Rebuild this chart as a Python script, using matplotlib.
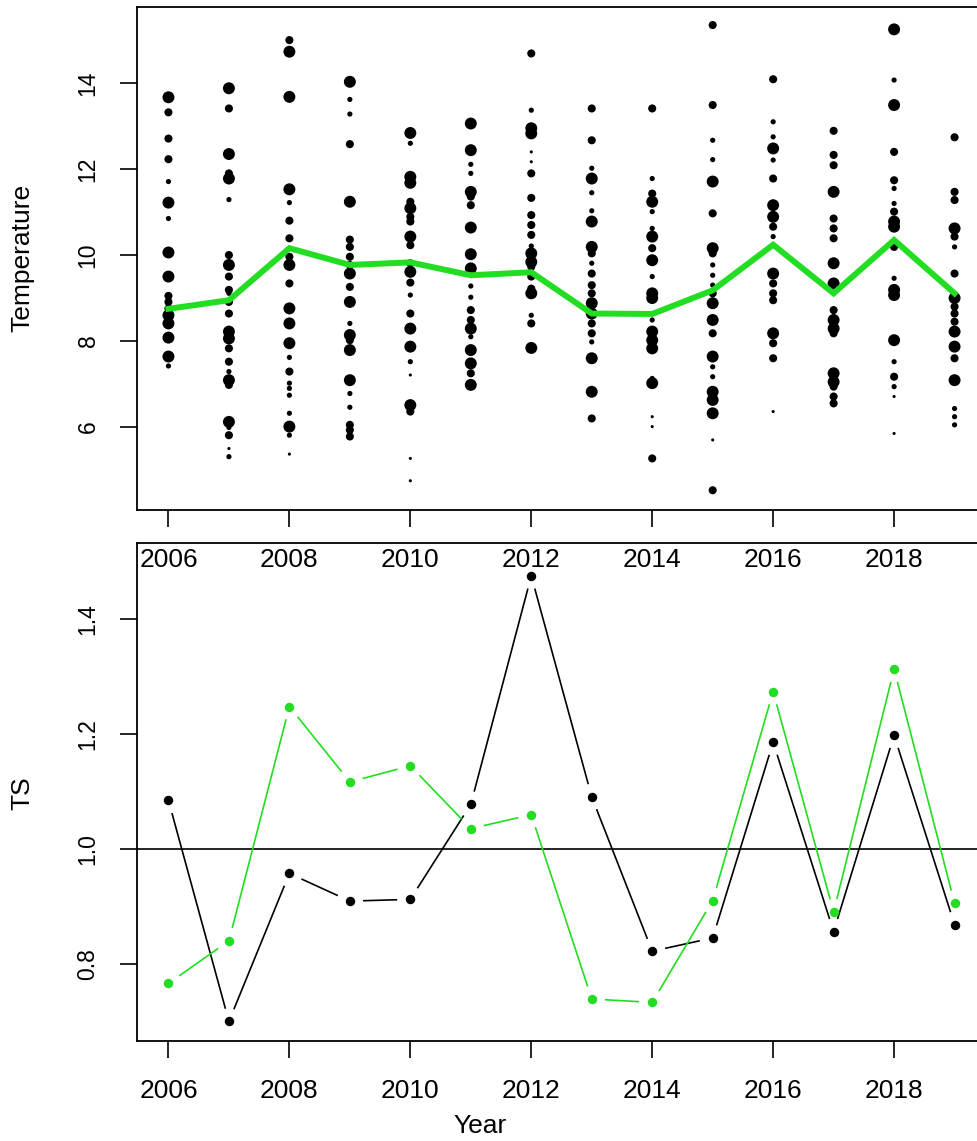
import numpy as np
import matplotlib
matplotlib.use("Agg")
import matplotlib.pyplot as plt

plt.rcParams['font.family'] = ['Liberation Sans', 'DejaVu Sans']

# yearly temperature observations and their weights (0 tiny .. 3 big)
t06 = [13.67, 13.32, 12.71, 12.23, 11.71, 11.22, 10.85, 10.06, 9.50, 9.05, 8.91, 8.76, 8.60, 8.41, 8.08, 7.64, 7.42]
w06 = [3, 2, 2, 2, 1, 3, 1, 3, 3, 2, 2, 2, 3, 3, 3, 3, 1]
t07 = [13.88, 13.41, 12.35, 11.90, 11.78, 11.29, 10.00, 9.77, 9.50, 9.19, 9.11, 8.91, 8.64, 8.22, 8.06, 7.83, 7.52,
       7.29, 7.09, 6.98, 6.12, 5.99, 5.81, 5.50, 5.31]
w07 = [3, 2, 3, 2, 3, 1, 2, 3, 2, 2, 1, 2, 2, 3, 3, 2, 2, 1, 3, 2, 3, 1, 2, 0, 1]
t08 = [15.00, 14.73, 13.68, 11.53, 11.22, 10.80, 10.39, 9.96, 9.77, 9.34, 8.76, 8.41, 7.95, 7.62, 7.29, 7.02, 6.90,
       6.74, 6.32, 6.01, 5.81, 5.37]
w08 = [2, 3, 3, 3, 1, 2, 2, 2, 3, 2, 3, 3, 3, 1, 2, 1, 1, 1, 1, 3, 1, 0]
t09 = [14.03, 13.62, 13.28, 12.58, 11.24, 10.36, 10.19, 9.96, 9.77, 9.57, 9.26, 8.91, 8.41, 8.14, 8.02, 7.79, 7.09,
       6.78, 6.46, 6.05, 5.93, 5.78]
w09 = [3, 1, 1, 2, 3, 2, 2, 2, 2, 3, 2, 3, 1, 3, 2, 3, 3, 1, 1, 2, 2, 2]
t10 = [12.84, 12.60, 11.82, 11.68, 11.24, 11.09, 10.89, 10.78, 10.43, 10.23, 9.81, 9.61, 9.36, 9.07, 8.64, 8.29, 7.87,
       7.52, 7.21, 6.51, 6.36, 5.27, 4.75]
w10 = [3, 1, 3, 3, 2, 3, 2, 2, 3, 2, 2, 3, 2, 1, 2, 3, 3, 1, 0, 3, 2, 0, 0]
t11 = [13.06, 12.44, 12.11, 11.90, 11.47, 11.36, 11.16, 10.64, 10.02, 9.69, 9.28, 9.02, 8.72, 8.49, 8.29, 8.10, 7.79,
       7.48, 7.25, 6.98]
w11 = [3, 3, 1, 1, 3, 2, 2, 3, 3, 3, 1, 1, 2, 2, 3, 1, 3, 3, 2, 3]
t12 = [14.69, 13.37, 12.95, 12.83, 12.40, 12.17, 11.90, 11.33, 10.93, 10.70, 10.47, 10.21, 10.04, 9.84, 9.73, 9.50,
       9.22, 9.11, 8.60, 8.41, 7.84]
w12 = [2, 1, 3, 3, 0, 0, 2, 2, 2, 2, 2, 1, 3, 3, 2, 2, 2, 3, 1, 2, 3]
t13 = [13.41, 12.67, 12.02, 11.78, 11.45, 11.03, 10.78, 10.19, 10.04, 9.81, 9.57, 9.30, 9.11, 8.88, 8.64, 8.41, 8.18,
       7.98, 7.60, 6.82, 6.20]
w13 = [2, 2, 1, 3, 1, 1, 3, 3, 2, 1, 2, 2, 2, 3, 3, 2, 2, 1, 3, 3, 2]
t14 = [13.41, 11.78, 11.43, 11.24, 11.01, 10.62, 10.43, 10.16, 9.88, 9.50, 9.11, 9.00, 8.49, 8.22, 8.02, 7.83, 7.13,
       7.02, 6.24, 6.01, 5.27]
w14 = [2, 1, 2, 3, 1, 1, 3, 2, 3, 1, 3, 3, 1, 3, 3, 3, 1, 3, 0, 0, 2]
t15 = [15.35, 13.49, 12.67, 12.22, 11.71, 10.97, 10.16, 10.04, 9.77, 9.53, 9.30, 9.11, 8.88, 8.49, 8.18, 7.64, 7.40,
       7.17, 6.82, 6.63, 6.32, 5.70, 4.53]
w15 = [2, 2, 1, 1, 3, 2, 3, 2, 1, 1, 1, 2, 3, 3, 2, 3, 1, 1, 3, 3, 3, 0, 2]
t16 = [14.09, 13.10, 12.75, 12.48, 12.21, 11.78, 11.16, 10.89, 10.66, 10.43, 9.57, 9.34, 9.11, 8.95, 8.18, 7.95, 7.60,
       6.36]
w16 = [2, 1, 1, 3, 1, 2, 3, 3, 2, 1, 3, 2, 2, 2, 3, 2, 2, 0]
t17 = [12.89, 12.33, 12.09, 11.47, 10.85, 10.62, 10.39, 9.81, 9.34, 8.72, 8.49, 8.29, 8.18, 7.25, 7.05, 6.94, 6.71,
       6.55]
w17 = [2, 2, 2, 3, 2, 2, 2, 3, 3, 2, 3, 3, 2, 3, 3, 2, 2, 2]
t18 = [15.25, 14.07, 13.49, 12.40, 11.74, 11.55, 11.20, 11.01, 10.78, 10.66, 10.19, 9.46, 9.19, 9.07, 8.02, 7.52,
       7.17, 6.94, 6.71, 5.85]
w18 = [3, 1, 3, 2, 2, 1, 1, 2, 3, 3, 2, 1, 3, 3, 3, 1, 2, 1, 0, 0]
t19 = [12.74, 11.47, 11.28, 10.62, 10.43, 10.19, 9.57, 9.00, 8.80, 8.64, 8.45, 8.22, 7.87, 7.60, 7.09, 6.43, 6.24,
       6.05]
w19 = [2, 2, 2, 3, 2, 1, 2, 3, 2, 2, 2, 3, 3, 2, 3, 1, 1, 1]

years = list(range(2006, 2020))
temps = [t06, t07, t08, t09, t10, t11, t12, t13, t14, t15, t16, t17, t18, t19]
weights = [w06, w07, w08, w09, w10, w11, w12, w13, w14, w15, w16, w17, w18, w19]
mean_temp = [8.75, 8.95, 10.16, 9.77, 9.83, 9.53, 9.60, 8.64, 8.63, 9.18, 10.24, 9.11, 10.35, 9.11]

ts_black = [1.085, 0.701, 0.958, 0.910, 0.913, 1.078, 1.475, 1.091, 0.823, 0.846, 1.186, 0.857, 1.198, 0.869]
ts_green = [0.767, 0.841, 1.248, 1.117, 1.145, 1.036, 1.060, 0.740, 0.734, 0.911, 1.274, 0.891, 1.313, 0.906]

xticks = [2006, 2008, 2010, 2012, 2014, 2016, 2018]
green = '#22dd22'
dot_area = {0: 5, 1: 14, 2: 34, 3: 74}


def style(ax, yticks):
    ax.set_xlim(2005.48, 2019.52)
    ax.set_xticks(xticks)
    ax.set_yticks(yticks)
    ax.set_yticklabels([str(v) for v in yticks], rotation=90, va='center', fontsize=16.5)
    ax.tick_params(axis='x', length=12, width=1.2, pad=15, labelsize=19)
    ax.tick_params(axis='y', length=12, width=1.2, pad=15)
    for sp in ax.spines.values():
        sp.set_linewidth(1.3)


def gapped(ax, x, y, color, gap=14):
    # R type="b": segments stop short of the points
    pts = ax.transData.transform(np.column_stack([x, y]))
    inv = ax.transData.inverted()
    for p0, p1 in zip(pts[:-1], pts[1:]):
        d = p1 - p0
        L = np.hypot(d[0], d[1])
        if L <= 2 * gap:
            continue
        u = d / L
        a = inv.transform(p0 + u * gap)
        b = inv.transform(p1 - u * gap)
        ax.plot([a[0], b[0]], [a[1], b[1]], color=color, lw=1.2)
    ax.plot(x, y, 'o', color=color, ms=6.8, mec='none')


fig = plt.figure(figsize=(9.77, 11.41), dpi=100)
ax1 = fig.add_axes([0.14023, 0.55302, 0.86899, 0.44084])
ax2 = fig.add_axes([0.14023, 0.08764, 0.86899, 0.43646])
ax2.patch.set_visible(False)
ax1.set_zorder(2)
ax1.patch.set_visible(False)

# top panel
for yr, tv, wv in zip(years, temps, weights):
    ax1.scatter([yr] * len(tv), tv, s=[dot_area[w] for w in wv], color='black', linewidths=0)
ax1.plot(years, mean_temp, color=green, lw=4.3, solid_joinstyle='miter')
ax1.set_ylim(4.07, 15.77)
style(ax1, [6, 8, 10, 12, 14])

# bottom panel
ax2.set_ylim(0.667, 1.532)
style(ax2, [0.8, 1.0, 1.2, 1.4])
ax2.axhline(1.0, color='black', lw=1.2)
gapped(ax2, years, ts_black, 'black')
gapped(ax2, years, ts_green, green)

fig.text(22 / 977, 1 - 258 / 1141, 'Temperature', rotation=90, ha='center', va='center', fontsize=19)
fig.text(22 / 977, 1 - 793 / 1141, 'TS', rotation=90, ha='center', va='center', fontsize=19)
fig.text(480 / 977, 1 - 1126 / 1141, 'Year', ha='center', va='center', fontsize=19)

fig.savefig('out.png', dpi=100)
